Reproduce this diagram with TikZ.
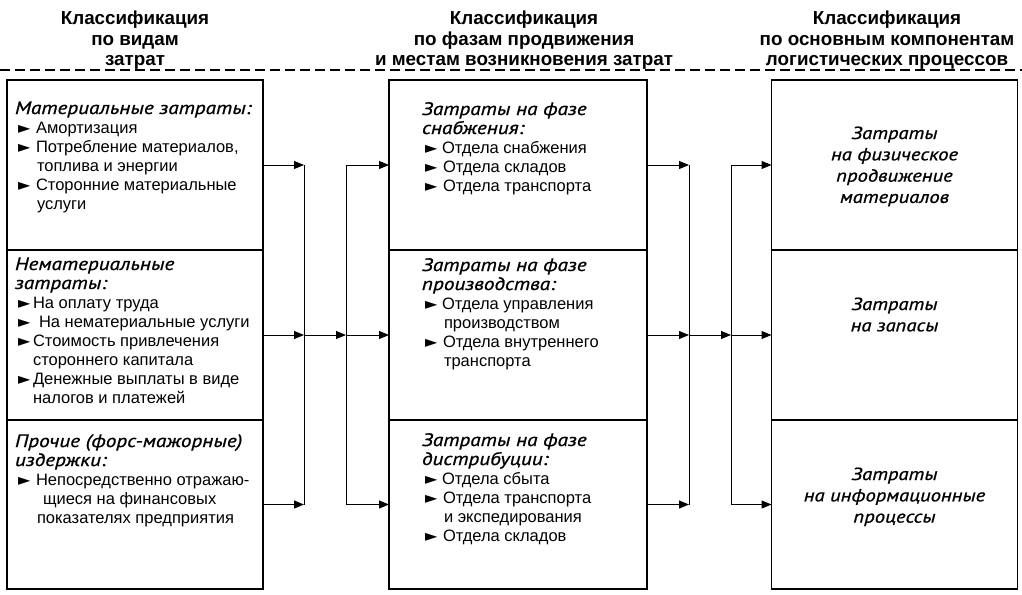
\documentclass[tikz,border=0pt]{standalone}
\usepackage{fontspec}
\setmainfont{Liberation Sans}
\newfontfamily\itf[FakeStretch=1.18,FakeBold=0.9]{PT Sans}
\newfontfamily\symf{DejaVu Sans}
\usetikzlibrary{arrows.meta}
\newcommand{\bul}{{\symf\fontsize{16}{16}\selectfont ►}}
\newcommand{\bl}[1][18pt]{\hspace*{3pt}\makebox[#1][l]{\bul}}
\newcommand{\cont}{\hspace*{22pt}}
\newcommand{\ital}[1]{{\itf\itshape\fontsize{18}{19}\selectfont #1}}
\newcommand{\tops}{\rule{0pt}{15pt}}
\begin{document}
\begin{tikzpicture}[x=1pt,y=-1pt,
  every node/.style={inner sep=0pt,outer sep=0pt},
  sec/.style={draw,line width=1.3pt,minimum width=#1},
  txt/.style={anchor=north west,align=left,font=\fontsize{16.5}{19}\selectfont},
  rtxt/.style={anchor=north,align=center,font=\itf\itshape\fontsize{17.5}{21.3}\selectfont},
  hdr/.style={anchor=north,align=center,font=\bfseries\fontsize{18.8}{20.5}\selectfont},
  ln/.style={line width=1pt},
  arr/.style={line width=1pt,-{Triangle[length=10pt,width=8pt]}}]
\useasboundingbox (0,0) rectangle (1022,594);
% headers
\node[hdr] (h1) at (135,10) {\rule{0pt}{15pt}Классификация\\по видам\\затрат};
\node[hdr] (h2) at (524,10) {\rule{0pt}{15pt}Классификация\\по фазам продвижения\\и местам возникновения затрат};
\node[hdr] (h3) at (887,10) {\rule{0pt}{15pt}Классификация\\по основным компонентам\\логистических процессов};
\coordinate (dl) at (0,70);
\coordinate (dr) at (1022,70);
\draw[line width=1.6pt,dash pattern=on 10pt off 5pt] (dl) -- (dr);
% section boxes
\node[sec=256pt,minimum height=170pt] (L1) at (135,165) {};
\node[sec=256pt,minimum height=170pt] (L2) at (135,335) {};
\node[sec=256pt,minimum height=169pt] (L3) at (135,504.5) {};
\node[sec=258pt,minimum height=170pt] (M1) at (518,165) {};
\node[sec=258pt,minimum height=170pt] (M2) at (518,335) {};
\node[sec=258pt,minimum height=169pt] (M3) at (518,504.5) {};
\node[sec=246pt,minimum height=170pt] (R1) at (894.5,165) {};
\node[sec=246pt,minimum height=170pt] (R2) at (894.5,335) {};
\node[sec=246pt,minimum height=169pt] (R3) at (894.5,504.5) {};
% left texts
\node[txt] (t1) at (15,99) {\tops\ital{Материальные затраты:}\\
\bl Амортизация\\
\bl Потребление материалов,\\
\cont топлива и энергии\\
\bl Сторонние материальные\\
\cont услуги};
\node[txt] (t2) at (15,255) {\tops\ital{Нематериальные}\\
\ital{затраты:}\\
\bl[15pt]На оплату труда\\
\bl[21pt]На нематериальные услуги\\
\bl[15pt]Стоимость привлечения\\
\hspace*{18pt}стороннего капитала\\
\bl[15pt]Денежные выплаты в виде\\
\hspace*{18pt}налогов и платежей};
\node[txt] (t3) at (15,432) {\tops\ital{Прочие (форс-мажорные)}\\
\ital{издержки:}\\
\bl Непосредственно отражаю-\\
\hspace*{28pt}щиеся на финансовых\\
\cont показателях предприятия};
% middle texts
\node[txt] (t4) at (422,100) {\tops\ital{Затраты на фазе}\\
\ital{снабжения:}\\
\bl[17pt]Отдела снабжения\\
\bl Отдела складов\\
\bl Отдела транспорта};
\node[txt] (t5) at (422,256) {\tops\ital{Затраты на фазе}\\
\ital{производства:}\\
\bl[17pt]Отдела управления\\
\cont производством\\
\bl Отдела внутреннего\\
\cont транспорта};
\node[txt] (t6) at (422,431) {\tops\ital{Затраты на фазе}\\
\ital{дистрибуции:}\\
\bl[17pt]Отдела сбыта\\
\bl Отдела транспорта\\
\cont и экспедирования\\
\bl Отдела складов};
% right texts
\node[rtxt] (t7) at (894.5,124) {\tops Затраты\\на физическое\\продвижение\\материалов};
\node[rtxt] (t8) at (894.5,295) {\tops Затраты\\на запасы};
\node[rtxt] (t9) at (894.5,465) {\tops Затраты\\на информационные\\процессы};
% connector columns
\coordinate (v1) at (304,0);
\coordinate (v2) at (346,0);
\coordinate (v3) at (689,0);
\coordinate (v4) at (731,0);
% left -> middle
\draw[arr] (L1.east) -- (L1.east -| v1);
\draw[arr] (L2.east) -- (L2.east -| v1);
\draw[arr] (L3.east) -- (L3.east -| v1);
\draw[ln] (L1.east -| v1) -- (L3.east -| v1);
\draw[arr] (L2.east -| v1) -- (L2.east -| v2);
\draw[ln] (L1.east -| v2) -- (L3.east -| v2);
\draw[arr] (L1.east -| v2) -- (M1.west);
\draw[arr] (L2.east -| v2) -- (M2.west);
\draw[arr] (L3.east -| v2) -- (M3.west);
% middle -> right
\draw[arr] (M1.east) -- (M1.east -| v3);
\draw[arr] (M2.east) -- (M2.east -| v3);
\draw[arr] (M3.east) -- (M3.east -| v3);
\draw[ln] (M1.east -| v3) -- (M3.east -| v3);
\draw[arr] (M2.east -| v3) -- (M2.east -| v4);
\draw[ln] (M1.east -| v4) -- (M3.east -| v4);
\draw[arr] (M1.east -| v4) -- (R1.west);
\draw[arr] (M2.east -| v4) -- (R2.west);
\draw[arr] (M3.east -| v4) -- (R3.west);
\end{tikzpicture}
\end{document}
